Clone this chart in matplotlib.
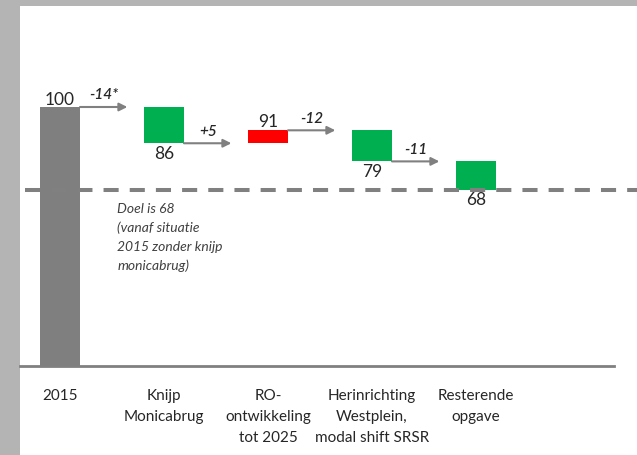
import matplotlib
matplotlib.use("Agg")
import matplotlib.pyplot as plt
from matplotlib.patches import Rectangle
import numpy as np

# ---- data ----
categories = ["2015", "Knijp\nMonicabrug", "RO-\nontwikkeling\ntot 2025",
              "Herinrichting\nWestplein,\nmodal shift SRSR", "Resterende\nopgave"]
start_value = 100
deltas = [-14, 5, -12, -11]
delta_labels = ["-14*", "+5", "-12", "-11"]
target_value = 68
target_note = "Doel is 68\n(vanaf situatie\n2015 zonder knijp\nmonicabrug)"

# ---- style ----
GRAY_BG = "#b4b4b4"
BAR_GRAY = "#7f7f7f"
GREEN = "#00b050"
RED = "#ff0000"
LINE_GRAY = "#808080"
TEXT = "#262626"
FONT = ["Lato", "DejaVu Sans"]

plt.rcParams["font.family"] = FONT

W, H = 637, 456
fig = plt.figure(figsize=(W / 100, H / 100), dpi=100, facecolor=GRAY_BG)
fig.add_artist(Rectangle((20 / W, 0), 1 - 20 / W, (H - 7) / H,
                         transform=fig.transFigure, facecolor="white",
                         edgecolor="none", zorder=-10))

ax = fig.add_axes([20 / W, (H - 367) / H, 617 / W, 360 / H])
ax.set_facecolor("none")
px_per_cat = 104
ax.set_xlim(-(60 - 20) / px_per_cat, -(60 - 20) / px_per_cat + 617 / px_per_cat)
ax.set_ylim(0, 360 / 2.59)
for s in ax.spines.values():
    s.set_visible(False)

levels = [start_value] + list(start_value + np.cumsum(deltas))
bw = 40 / px_per_cat

# first bar
ax.bar(0, start_value, width=bw, color=BAR_GRAY, zorder=2)
ax.text(0, start_value, f"{start_value}", ha="center", va="bottom",
        fontsize=12.5, color=TEXT)

for k, d in enumerate(deltas, start=1):
    lo = min(levels[k - 1], levels[k])
    col = GREEN if d < 0 else RED
    ax.bar(k, abs(d), bottom=lo, width=bw, color=col, zorder=2)
    if d < 0:
        ax.annotate(f"{levels[k]:g}", (k, lo), xytext=(0, -1), textcoords="offset points",
                    ha="center", va="top", fontsize=12.5, color=TEXT)
    else:
        ax.annotate(f"{levels[k]:g}", (k, lo + abs(d)), xytext=(0, 1), textcoords="offset points",
                    ha="center", va="bottom", fontsize=12.5, color=TEXT)

# arrows between bars
for k, (d, lab) in enumerate(zip(deltas, delta_labels)):
    x0 = k + bw / 2
    x1 = k + 1 - bw / 2 - 0.16
    y = levels[k]
    ax.annotate("", xy=(x1, y), xytext=(x0, y),
                arrowprops=dict(arrowstyle="-|>", color=LINE_GRAY, lw=1.5,
                                mutation_scale=12, shrinkA=0, shrinkB=0),
                zorder=3)
    ax.annotate(lab, ((x0 + x1) / 2, y), xytext=(0, 4), textcoords="offset points",
                ha="center", va="bottom", fontsize=11, style="italic",
                fontweight="semibold", color=TEXT)

# target dashed line
ax.axhline(target_value, xmin=0.008, xmax=1, color=LINE_GRAY, lw=2.9,
           dashes=(3.75, 2.75), zorder=4)
ax.annotate(target_note, (0.55, target_value), xytext=(0, -9), textcoords="offset points",
            ha="left", va="top", fontsize=10, style="italic", color="#404040",
            linespacing=1.62)

# baseline
ax.axhline(0, xmin=0, xmax=0.963, color=LINE_GRAY, lw=2, zorder=3, clip_on=False)

ax.set_yticks([])
ax.set_xticks(range(len(categories)))
ax.set_xticklabels(categories, fontsize=11, color=TEXT, linespacing=1.62)
ax.tick_params(axis="x", length=0, pad=16)

fig.savefig("out.png", dpi=100, facecolor=fig.get_facecolor())
